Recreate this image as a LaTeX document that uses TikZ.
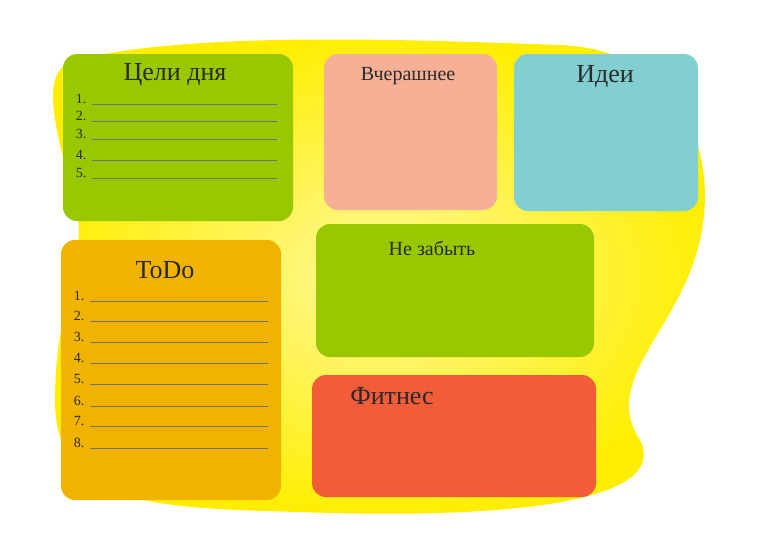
\documentclass[tikz,border=0pt]{standalone}
\usepackage{fontspec}
\setmainfont{Liberation Serif}
\usepackage{tikz}
\usetikzlibrary{positioning}
\definecolor{leaf}{HTML}{99C800}
\definecolor{salmon}{HTML}{F5B096}
\definecolor{teal}{HTML}{82CFD1}
\definecolor{amber}{HTML}{EFB300}
\definecolor{tomato}{HTML}{F25C38}
\definecolor{sun}{HTML}{FFEE00}
\definecolor{ink}{HTML}{2A2A2A}
\tikzset{
  card/.style={rounded corners=14pt, draw=none},
  title/.style={text=ink, font=\fontsize{26}{28}\selectfont},
  small title/.style={text=ink, font=\fontsize{20}{22}\selectfont},
  num/.style={text=ink, font=\fontsize{14}{16}\selectfont, anchor=east},
  rule/.style={draw=black!55, line width=0.5pt}
}
\begin{document}
\begin{tikzpicture}[x=1pt,y=-1pt]
	
	\useasboundingbox (0,0) rectangle (778,550);
	
	% yellow background blob
	\shade [inner color=sun!40!white, outer color=sun]
	  (70,62) .. controls (180,30) and (420,40) .. (560,45)
	  .. controls (680,50) and (720,150) .. (700,240)
	  .. controls (680,330) and (600,380) .. (640,440)
	  .. controls (670,500) and (520,520) .. (300,512)
	  .. controls (150,508) and (55,505) .. (55,400)
	  .. controls (55,300) and (90,260) .. (75,200)
	  .. controls (55,130) and (40,75) .. (70,62) -- cycle;
	
	\fill [card, leaf] (63,54) rectangle (293,221);
	\fill [card, salmon] (324,54) rectangle (497,210);
	\fill [card, teal] (514,54) rectangle (698,211);
	\fill [card, amber] (61,240) rectangle (281,500);
	\fill [card, leaf] (316,224) rectangle (594,357);
	\fill [card, tomato] (312,375) rectangle (596,497);
	
	\node [title] (goals) at (175,75) {Цели дня};
	\node [small title] (yesterday) at (408,76) {Вчерашнее};
	\node [title] (ideas) at (605,76) {Идеи};
	\node [title] (todo) at (165,270) {ToDo};
	\node [small title] (remember) at (432,248) {Не забыть};
	\node [title] (fitness) at (392,396) {Фитнес};
	
	% goal lines
	\foreach \i/\y in {1/99,2/116,3/134,4/155,5/173} {
		\node [num] (g\i) at (90,\y) {\i.};
		\draw [rule] (92,\y+5) -- (277,\y+5);
	}
	
	% todo lines
	\foreach \i/\y in {1/296,2/316,3/337,4/358,5/379,6/401,7/421,8/443} {
		\node [num] (t\i) at (88,\y) {\i.};
		\draw [rule] (90,\y+5) -- (268,\y+5);
	}
	
\end{tikzpicture}
\end{document}
